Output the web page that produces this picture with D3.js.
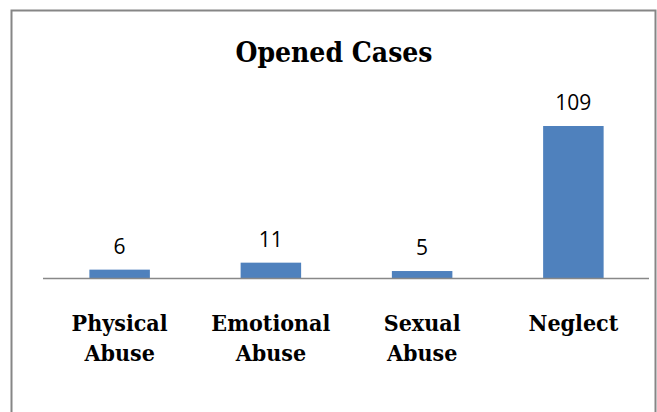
<!DOCTYPE html>
<html><head><meta charset="utf-8">
<script src="https://cdn.jsdelivr.net/npm/d3@7"></script>
<style>html,body{margin:0;padding:0;background:#fff;}svg{display:block;}</style>
</head><body>
<svg id="c" width="657" height="412"></svg>
<script>
const categories = ["Physical Abuse", "Emotional Abuse", "Sexual Abuse", "Neglect"];
const categoryLines = [["Physical", "Abuse"], ["Emotional", "Abuse"], ["Sexual", "Abuse"], ["Neglect"]];
const values = [6, 11, 5, 109];
const title = "Opened Cases";

const svg = d3.select("#c");
svg.append("rect").attr("width", 657).attr("height", 412).attr("fill", "#fff");
// chart border (no bottom edge visible)
svg.append("path").attr("d", "M11.5,412 V10.5 H655.5 V412").attr("fill", "none").attr("stroke", "#868686").attr("stroke-width", 2);

const x = d3.scaleBand().domain(categories).range([44, 649]).paddingInner(0.6).paddingOuter(0.3);
const y = d3.scaleLinear().domain([0, 109]).range([278, 126]);

svg.append("text").attr("x", 334).attr("y", 62).attr("text-anchor", "middle")
  .attr("font-family", "'DejaVu Serif Condensed','DejaVu Serif',serif").attr("font-weight", "bold")
  .attr("font-size", 28).attr("fill", "#000").text(title);

svg.selectAll("rect.bar").data(values).join("rect").attr("class", "bar")
  .attr("x", (d, i) => x(categories[i])).attr("width", x.bandwidth())
  .attr("y", d => y(d)).attr("height", d => y(0) - y(d)).attr("fill", "#4F81BD");

svg.append("line").attr("x1", 43).attr("x2", 649).attr("y1", y(0) + 0.5).attr("y2", y(0) + 0.5)
  .attr("stroke", "#888").attr("stroke-width", 1.5);

svg.selectAll("text.val").data(values).join("text").attr("class", "val")
  .attr("x", (d, i) => x(categories[i]) + x.bandwidth() / 2).attr("y", d => y(d) - 16)
  .attr("text-anchor", "middle").attr("font-family", "'Open Sans',Carlito,sans-serif")
  .attr("font-size", 21).attr("fill", "#000").text(d => d);

const lab = svg.selectAll("text.cat").data(categories).join("text").attr("class", "cat")
  .attr("x", d => x(d) + x.bandwidth() / 2).attr("y", 331).attr("text-anchor", "middle")
  .attr("font-family", "'DejaVu Serif Condensed','DejaVu Serif',serif").attr("font-weight", "bold")
  .attr("font-size", 23).attr("fill", "#000");
lab.each(function(d, i) {
  d3.select(this).selectAll("tspan").data(categoryLines[i]).join("tspan")
    .attr("x", x(d) + x.bandwidth() / 2).attr("dy", (t, j) => j === 0 ? 0 : 30).text(t => t);
});
</script>
</body></html>
